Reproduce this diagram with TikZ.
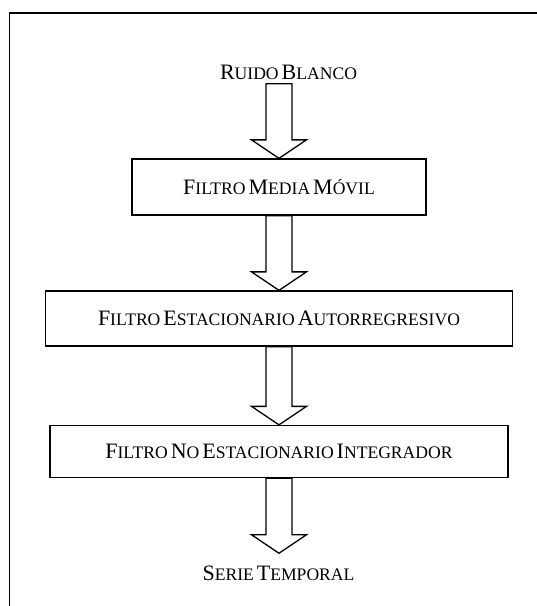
\documentclass[tikz,border=0pt]{standalone}
\usepackage{fontspec}
\setmainfont{Liberation Serif}
\usetikzlibrary{calc}

% initial capital at full size, the rest of the word in reduced capitals
\newcommand\capL[1]{{\fontsize{22}{24}\selectfont #1}}
% narrow gap between words
\newcommand\wsp{\hspace{3pt}}

\tikzset{
  filterbox/.style={draw, line width=1.3pt, rectangle, inner sep=0pt,
    text height=14.6pt, text depth=0pt, font=\fontsize{17.6}{20}\selectfont},
  caption/.style={inner sep=0pt, font=\fontsize{17.6}{20}\selectfont, anchor=base},
  hollowarrow/.style={draw, line width=1.3pt, line join=miter},
  frameline/.style={draw, line width=1.5pt}
}

% outlined block arrow from point #1 down to tip #2
\newcommand\blockarrow[2]{%
  \draw[hollowarrow] let \p1=(#1), \p2=(#2) in
    ({\x1-13pt},\y1) -- ({\x1-13pt},{\y2+18.5pt}) -- ({\x1-27.5pt},{\y2+18.5pt})
    -- (\x1,\y2) -- ({\x1+27.5pt},{\y2+18.5pt}) -- ({\x1+13pt},{\y2+18.5pt})
    -- ({\x1+13pt},\y1) -- cycle;}

\begin{document}
\begin{tikzpicture}[x=1pt,y=-1pt]
  \useasboundingbox (0,0) rectangle (537,606);
  \clip (0,0) rectangle (537,606);

  % surrounding frame
  \draw[frameline] (9.5,13) rectangle (600,660);

  % stages
  \node[filterbox, minimum width=294pt, minimum height=56pt] (mm) at (279,187)
    {\capL{F}ILTRO\wsp\capL{M}EDIA\wsp\capL{M}ÓVIL};
  \node[filterbox, minimum width=467pt, minimum height=55pt] (ar) at (279,318.5)
    {\capL{F}ILTRO\wsp\capL{E}STACIONARIO\wsp\capL{A}UTORREGRESIVO};
  \node[filterbox, minimum width=458pt, minimum height=52pt] (ni) at (279,451.5)
    {\capL{F}ILTRO\wsp\capL{N}O\wsp\capL{E}STACIONARIO\wsp\capL{I}NTEGRADOR};

  % input and output
  \node[caption] (rb) at (288.5,79) {\capL{R}UIDO\wsp\capL{B}LANCO};
  \node[caption] (st) at (278.5,580) {\capL{S}ERIE\wsp\capL{T}EMPORAL};

  \coordinate (inTop) at ($(rb.south -| mm.north)+(0,4.3)$);
  \coordinate (outTip) at ($(st.north -| ni.south)+(0,-12)$);

  % connectors
  \blockarrow{inTop}{mm.north}
  \blockarrow{mm.south}{ar.north}
  \blockarrow{ar.south}{ni.north}
  \blockarrow{ni.south}{outTip}
\end{tikzpicture}
\end{document}
